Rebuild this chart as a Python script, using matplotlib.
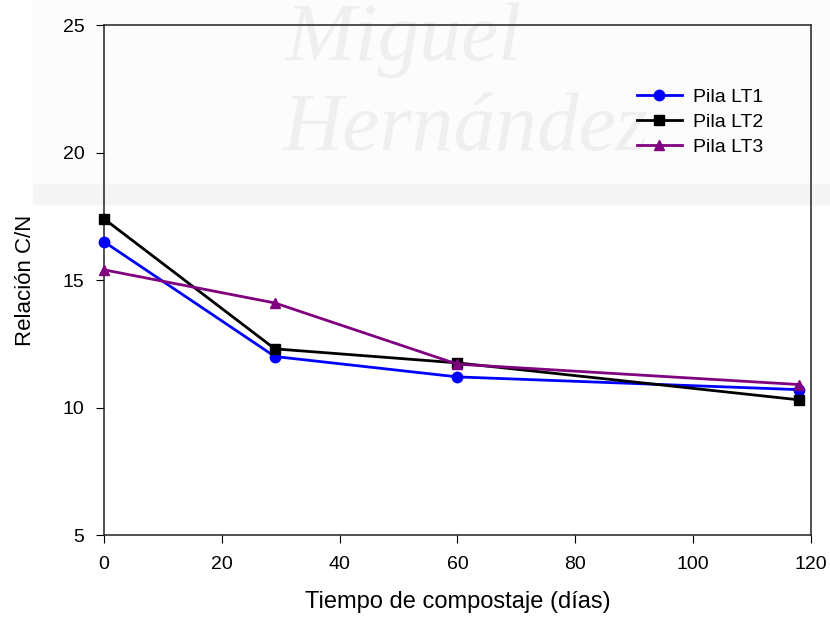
import numpy as np
import matplotlib.pyplot as plt

plt.rcParams['font.family'] = ['Liberation Sans', 'DejaVu Sans']

# Tiempo de compostaje (dias) y relacion C/N por pila
dias = [0, 29, 60, 118]
lt1 = [16.5, 12.0, 11.2, 10.7]
lt2 = [17.4, 12.3, 11.75, 10.3]
lt3 = [15.4, 14.1, 11.7, 10.9]

series = [
    ("Pila LT1", lt1, "#0000ff", "o"),
    ("Pila LT2", lt2, "black", "s"),
    ("Pila LT3", lt3, "#800080", "^"),
]

fig = plt.figure(figsize=(8.3, 6.19), dpi=100)

# marca de agua tenue del fondo
fig.patches.append(plt.Rectangle((0.04, 0.67), 0.96, 0.033, transform=fig.transFigure,
                                 color="#f5f5f5", zorder=-2))
fig.patches.append(plt.Rectangle((0.04, 0.703), 0.96, 0.297, transform=fig.transFigure,
                                 color="#fcfcfc", zorder=-3))
fig.text(0.345, 0.935, "Miguel", fontsize=60, style="italic", family="Liberation Serif",
         color="#efefef", ha="left", va="center", zorder=-1)
fig.text(0.341, 0.79, "Hernández", fontsize=60, style="italic", family="Liberation Serif",
         color="#efefef", ha="left", va="center", zorder=-1)

ax = fig.add_axes([0.1253, 0.1357, 0.8517, 0.8239])
ax.patch.set_alpha(0)

for label, vals, color, marker in series:
    ax.plot(dias, vals, color=color, marker=marker, markersize=7.5, linewidth=2,
            label=label, clip_on=False, zorder=3)

ax.set_xlim(0, 120)
ax.set_ylim(5, 25)
ax.set_xticks(np.arange(0, 121, 20))
ax.set_yticks(np.arange(5, 26, 5))
ax.tick_params(direction="out", length=6, labelsize=14, top=False, right=False)
ax.tick_params(axis="x", pad=9)
ax.tick_params(axis="y", pad=8)
for s in ax.spines.values():
    s.set_linewidth(1.1)
    s.set_color("#222222")

ax.set_xlabel("Tiempo de compostaje (días)", fontsize=17, labelpad=13)
ax.set_ylabel("Relación C/N", fontsize=16, labelpad=19)

ax.legend(loc="upper left", bbox_to_anchor=(0.7675, 0.858), bbox_transform=fig.transFigure,
          frameon=False, fontsize=14, handlelength=2.3, labelspacing=0.4,
          handletextpad=0.6, borderpad=0, borderaxespad=0)

fig.savefig("out.png", dpi=100)
